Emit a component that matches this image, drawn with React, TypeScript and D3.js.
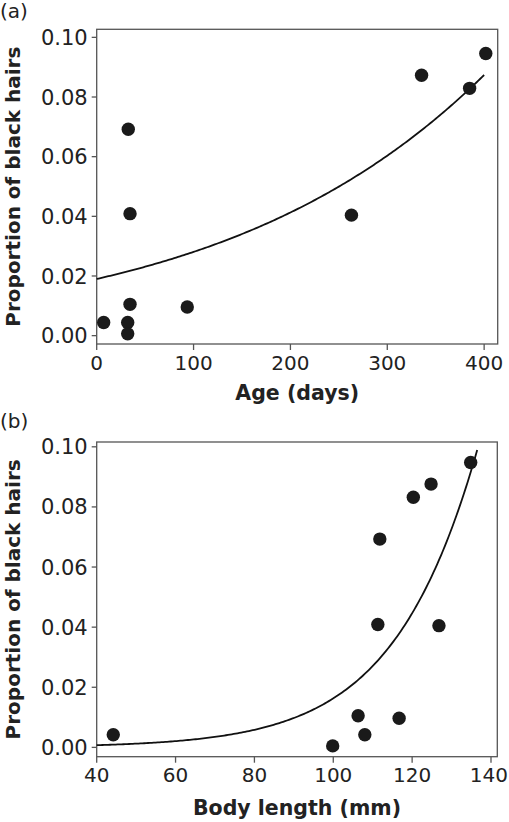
import React from "react";
import * as d3 from "d3";

// Panel (a): age (days) vs proportion of black hairs
const ageDays = [401.7, 335.4, 385, 32.6, 34.4, 263, 34.4, 93.5, 7.2, 32, 32];
const ageProp = [0.0946, 0.0873, 0.0829, 0.0692, 0.0409, 0.0404, 0.0105, 0.0096, 0.0044, 0.0044, 0.0006];
const ageXTicks = [0, 100, 200, 300, 400];

// Panel (b): body length (mm) vs proportion of black hairs
const bodyLen = [134.85, 124.8, 120.3, 111.8, 111.3, 126.8, 106.3, 116.7, 108.0, 99.85, 44.2];
const bodyProp = [0.0948, 0.0876, 0.0832, 0.0693, 0.0409, 0.0405, 0.0105, 0.0097, 0.0042, 0.0005, 0.0042];
const bodyXTicks = [40, 60, 80, 100, 120, 140];

const yTicks = [0.0, 0.02, 0.04, 0.06, 0.08, 0.1];

// Fitted logistic models: logit(p) = intercept + slope * x
const ageFit = { intercept: -3.944, slope: 0.003995, from: 0, to: 400 };
const bodyFit = { intercept: -9.28, slope: 0.0518, from: 40, to: 136.5 };

const FONT = "'DejaVu Sans', Verdana, sans-serif";
const W = 509;

type PanelProps = {
  label: string;
  xTitle: string;
  xs: number[];
  ys: number[];
  xTicks: number[];
  xDomain: [number, number];
  yDomain: [number, number];
  frame: { left: number; right: number; top: number; bottom: number };
  fit: { intercept: number; slope: number; from: number; to: number };
  labelY: number;
  titleY: number;
};

function Panel(p: PanelProps) {
  const { frame } = p;
  const x = d3.scaleLinear().domain(p.xDomain).range([frame.left, frame.right]);
  const y = d3.scaleLinear().domain(p.yDomain).range([frame.bottom, frame.top]);
  const curveX = d3.range(p.fit.from, p.fit.to + 1e-9, (p.fit.to - p.fit.from) / 200);
  const line = d3
    .line<number>()
    .x((d) => x(d))
    .y((d) => y(1 / (1 + Math.exp(-(p.fit.intercept + p.fit.slope * d)))));
  const cy = (frame.top + frame.bottom) / 2;
  const cx = (frame.left + frame.right) / 2;
  const axisColor = "#555";
  const xFs = 20;
  return (
    <g>
      <text x={0} y={p.labelY} fontFamily={FONT} fontSize={20} fill="#222">
        {p.label}
      </text>
      <rect
        x={frame.left}
        y={frame.top}
        width={frame.right - frame.left}
        height={frame.bottom - frame.top}
        fill="white"
        stroke={axisColor}
        strokeWidth={1.3}
      />
      {yTicks.map((t) => (
        <g key={"y" + t}>
          <line x1={frame.left - 5} x2={frame.left} y1={y(t)} y2={y(t)} stroke={axisColor} strokeWidth={1.3} />
          <text
            x={frame.left - 9}
            y={y(t)}
            dy="0.36em"
            textAnchor="end"
            fontFamily={FONT}
            fontSize={21}
            fill="#222"
          >
            {d3.format(".2f")(t)}
          </text>
        </g>
      ))}
      {p.xTicks.map((t) => {
        const label = String(t);
        const half = (label.length * 0.636 * xFs) / 2;
        const overflow = x(t) + half > W - 1;
        return (
          <g key={"x" + t}>
            <line x1={x(t)} x2={x(t)} y1={frame.bottom} y2={frame.bottom + 6} stroke={axisColor} strokeWidth={1.3} />
            <text
              x={overflow ? W - 1 : x(t)}
              y={frame.bottom + 25.5}
              textAnchor={overflow ? "end" : "middle"}
              fontFamily={FONT}
              fontSize={xFs}
              fill="#222"
            >
              {label}
            </text>
          </g>
        );
      })}
      <path d={line(curveX) || ""} fill="none" stroke="#111" strokeWidth={1.8} />
      {p.xs.map((v, i) => (
        <circle key={i} cx={x(v)} cy={y(p.ys[i])} r={6.7} fill="#1a1a1a" />
      ))}
      <text
        x={cx}
        y={p.titleY}
        textAnchor="middle"
        fontFamily={FONT}
        fontWeight="bold"
        fontSize={20.5}
        fill="#222"
      >
        {p.xTitle}
      </text>
      <text
        transform={`translate(20,${cy}) rotate(-90)`}
        textAnchor="middle"
        fontFamily={FONT}
        fontWeight="bold"
        fontSize={20}
        fill="#222"
      >
        Proportion of black hairs
      </text>
    </g>
  );
}

export default function App() {
  return (
    <svg
      width={W}
      height={822}
      style={{ position: "absolute", left: 0, top: 0, background: "white" }}
    >
      <rect width={W} height={822} fill="white" />
      <Panel
        label="(a)"
        xTitle="Age (days)"
        xs={ageDays}
        ys={ageProp}
        xTicks={ageXTicks}
        xDomain={[0, 414]}
        yDomain={[-0.0028, 0.1027]}
        frame={{ left: 96.7, right: 497.7, top: 29.3, bottom: 344 }}
        fit={ageFit}
        labelY={18}
        titleY={400}
      />
      <Panel
        label="(b)"
        xTitle="Body length (mm)"
        xs={bodyLen}
        ys={bodyProp}
        xTicks={bodyXTicks}
        xDomain={[40, 141.6]}
        yDomain={[-0.0031, 0.1016]}
        frame={{ left: 96.7, right: 497.3, top: 442, bottom: 756.7 }}
        fit={bodyFit}
        labelY={428}
        titleY={815}
      />
    </svg>
  );
}
